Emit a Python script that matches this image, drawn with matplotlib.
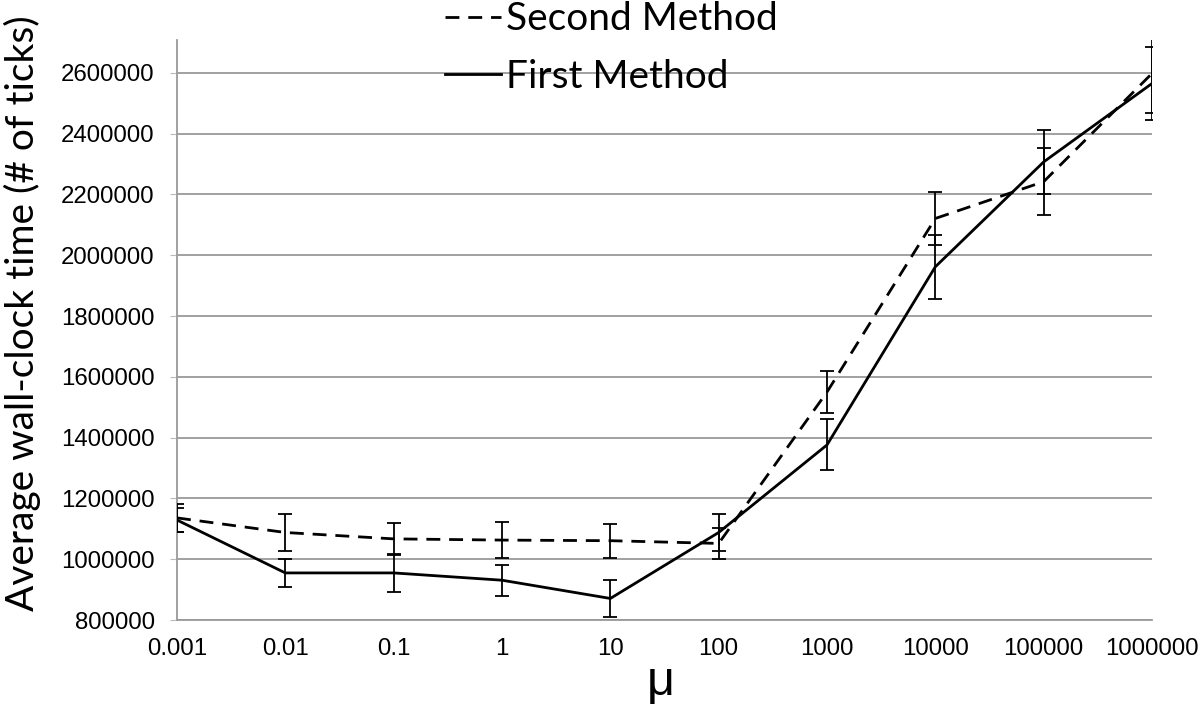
import matplotlib
matplotlib.use("Agg")
import matplotlib.pyplot as plt

# mu values (categorical axis)
mu_labels = ["0.001", "0.01", "0.1", "1", "10", "100", "1000", "10000", "100000", "1000000"]

# First Method (solid)
first = [1129000, 955000, 955000, 931000, 871000, 1088000, 1376000, 1962000, 2307000, 2565000]
first_err = [40000, 46000, 62000, 51000, 61000, 62000, 84000, 105000, 104000, 120000]

# Second Method (dashed)
second = [1136000, 1088000, 1067000, 1063000, 1061000, 1052000, 1550000, 2121000, 2242000, 2598000]
second_err = [45000, 60000, 52000, 60000, 56000, 50000, 68000, 88000, 111000, 130000]

yticks = list(range(800000, 2600001, 200000))

DPI = 100
fig = plt.figure(figsize=(12, 7.07), dpi=DPI)
ax = fig.add_axes([0.1475, 0.123, 0.8125, 0.8204])

x = list(range(len(mu_labels)))

ax.plot(x, second, color="black", lw=2.0, dashes=(5, 3.2), label="Second Method", zorder=3)
ax.plot(x, first, color="black", lw=2.0, label="First Method", zorder=3,
        solid_joinstyle="round")
ax.errorbar(x, second, yerr=second_err, fmt="none", ecolor="black", elinewidth=1.3,
            capsize=5, capthick=1.3, zorder=4)
ax.errorbar(x, first, yerr=first_err, fmt="none", ecolor="black", elinewidth=1.3,
            capsize=5, capthick=1.3, zorder=4)

ax.set_xlim(0, len(mu_labels) - 1)
ax.set_ylim(800000, 2708000)
ax.set_yticks(yticks)
ax.set_yticklabels([str(v) for v in yticks])
ax.set_xticks(x)
ax.set_xticklabels(mu_labels)
ax.yaxis.grid(True, color="#9a9a9a", lw=1.3)
ax.set_axisbelow(True)

for s in ["top", "right"]:
    ax.spines[s].set_visible(False)
ax.spines["left"].set_color("#9a9a9a")
ax.spines["bottom"].set_color("#9a9a9a")
ax.spines["left"].set_linewidth(1.3)
ax.spines["bottom"].set_linewidth(1.3)

ax.tick_params(axis="y", length=5, color="#bbbbbb", labelsize=17.3, pad=11)
ax.tick_params(axis="x", length=0, labelsize=17.3, pad=13)
for lab in ax.get_xticklabels() + ax.get_yticklabels():
    lab.set_fontfamily(["Liberation Sans", "DejaVu Sans"])

fig.text(22 / 1200, 1 - 313 / 707, "Average wall-clock time (# of ticks)", rotation=90,
         ha="center", va="center", fontsize=28, family=["Lato", "DejaVu Sans"])
fig.text(661 / 1200, 1 - 682 / 707, "μ", ha="center", va="center", fontsize=35,
         family=["Liberation Sans", "DejaVu Sans"])

leg = fig.legend(loc="center", bbox_to_anchor=(611 / 1200, 1 - 48 / 707), frameon=False,
                 handlelength=1.45, handletextpad=0.12, labelspacing=0.55,
                 prop={"family": "Lato", "size": 28})

fig.savefig("out.png", dpi=DPI)
